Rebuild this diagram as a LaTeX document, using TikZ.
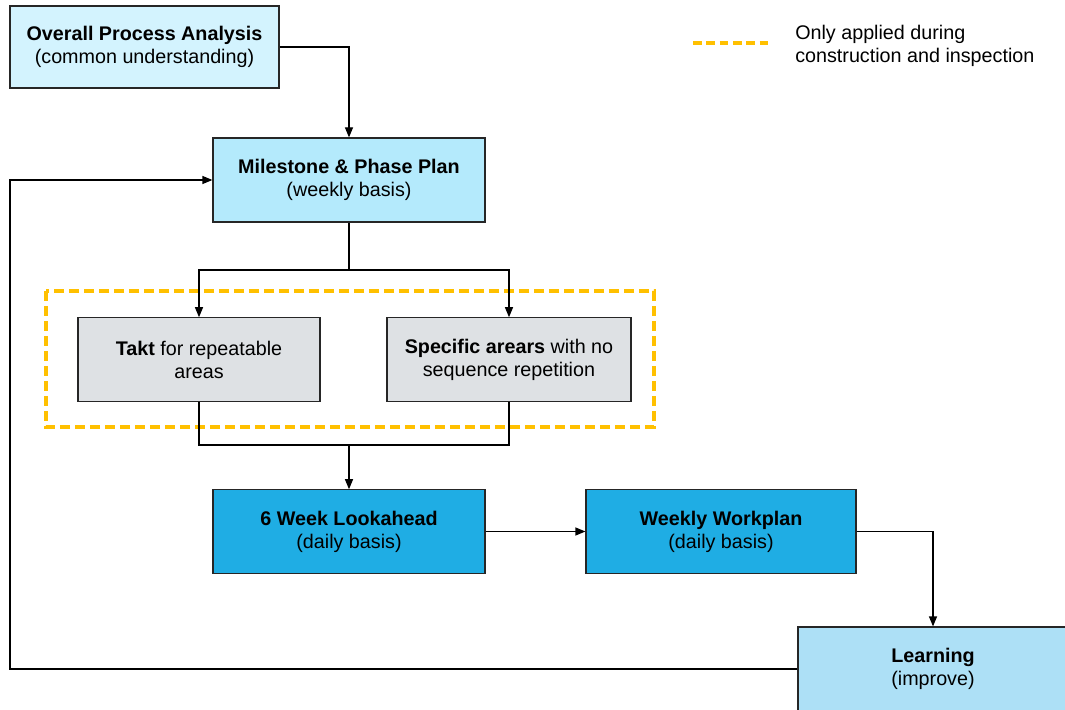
\documentclass[tikz,border=0pt]{standalone}
\usepackage{fontspec}
\setmainfont{Liberation Sans}
\usetikzlibrary{arrows.meta}

\definecolor{palecyan}{HTML}{D3F3FE}
\definecolor{skycyan}{HTML}{B4EAFC}
\definecolor{takegrey}{HTML}{DEE1E4}
\definecolor{deepcyan}{HTML}{1FADE4}
\definecolor{learncyan}{HTML}{ADE0F6}
\definecolor{amber}{HTML}{FFC000}

\begin{document}
\begin{tikzpicture}[x=0.75pt,y=-0.75pt,
	font=\fontsize{14.8}{17.3}\selectfont,
	box/.style={draw=black!85,line width=0.9pt,align=center,inner sep=0,minimum width=204pt,minimum height=62.5pt},
	link/.style={line width=0.9pt,-{Triangle[length=7.5pt,width=6pt]}},
	plain/.style={line width=0.9pt},
	amberdash/.style={draw=amber,line width=2.6pt,dash pattern=on 7.5pt off 3.75pt}]
	\useasboundingbox[fill=white] (0,0) rectangle (1065,710);
	\draw[amberdash] (46,291) rectangle (654,427);
	\node[box,fill=palecyan,minimum width=201.75pt,minimum height=61.5pt] (1) at (144.5,47) {\textbf{Overall Process Analysis}\\(common understanding)};
	\node[box,fill=skycyan,minimum height=63pt] (2) at (349,180) {\textbf{Milestone \& Phase Plan}\\(weekly basis)};
	\node[box,fill=takegrey,minimum width=181.5pt] (3) at (199,359.5) {\textbf{Takt} for repeatable\\areas};
	\node[box,fill=takegrey,minimum width=183pt] (4) at (509,359.5) {\textbf{Specific arears} with no\\sequence repetition};
	\node[box,fill=deepcyan] (5) at (349,531.5) {\textbf{6 Week Lookahead}\\(daily basis)};
	\node[box,fill=deepcyan,minimum width=202.5pt] (6) at (721,531.5) {\textbf{Weekly Workplan}\\(daily basis)};
	\node[box,fill=learncyan,minimum width=202.5pt,minimum height=63pt] (7) at (933,669) {\textbf{Learning}\\(improve)};
	\coordinate (split) at (349,270);
	\coordinate (join) at (349,445);
	\coordinate (back) at (10,669);
	\draw[link] (1.east) -| (2.north);
	\draw[plain] (2.south) -- (split);
	\draw[link] (split) -| (3.north);
	\draw[link] (split) -| (4.north);
	\draw[plain] (3.south) |- (join);
	\draw[plain] (4.south) |- (join);
	\draw[link] (join) -- (5.north);
	\draw[link] (5) -- (6);
	\draw[link] (6.east) -| (7.north);
	\draw[link] (7.west) -- (back) |- (2.west);
	% legend
	\coordinate (key1) at (693,43);
	\coordinate (key2) at (771,43);
	\draw[amberdash,dash pattern=on 6.5pt off 3.5pt] (key1) -- (key2);
	\node[anchor=west,align=left,inner sep=0] (keytext) at (795,46) {Only applied during\\construction and inspection};
\end{tikzpicture}
\end{document}
